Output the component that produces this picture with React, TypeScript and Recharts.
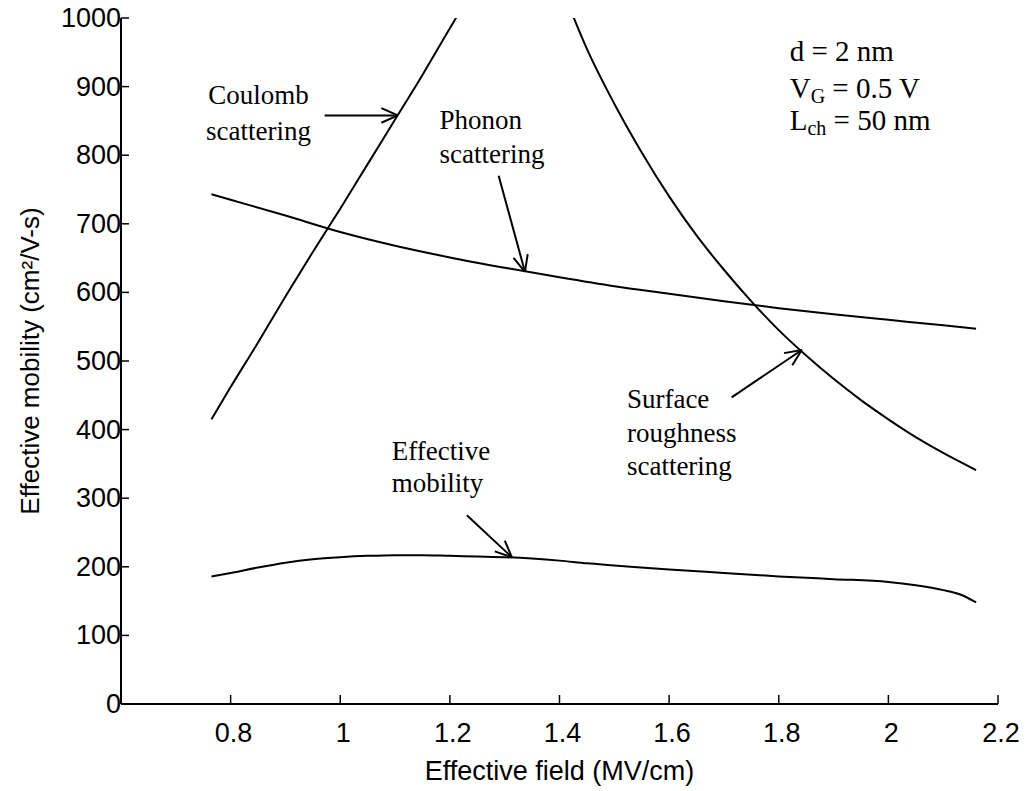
import React from "react";
import { LineChart, Line, XAxis, YAxis, ReferenceLine, ReferenceDot } from "recharts";

// curves (x in MV/cm, y in cm2/V-s)
const coulombX = [0.765, 0.8, 0.85, 0.9, 0.95, 1.0, 1.05, 1.1, 1.15, 1.2, 1.22];
const coulombY = [415, 462, 527, 594, 659, 722, 787, 852, 917, 985, 1012];

const phononX = [0.765, 0.8, 0.9, 1.0, 1.1, 1.2, 1.3, 1.4, 1.5, 1.6, 1.7, 1.8, 1.9, 2.0, 2.1, 2.16];
const phononY = [743, 735, 712, 688, 668, 651, 636, 622, 609, 598, 587, 577, 568, 560, 552, 547];

const surfaceX = [1.415, 1.45, 1.5, 1.55, 1.6, 1.65, 1.7, 1.75, 1.8, 1.85, 1.9, 1.95, 2.0, 2.05, 2.1, 2.16];
const surfaceY = [1022, 955, 875, 804, 740, 683, 633, 587, 545, 508, 474, 443, 415, 389, 366, 341];

const effectiveX = [0.765, 0.8, 0.85, 0.9, 0.95, 1.0, 1.05, 1.1, 1.15, 1.2, 1.25, 1.3, 1.35, 1.4, 1.45, 1.5, 1.6, 1.7, 1.8, 1.9, 2.0, 2.05, 2.1, 2.13, 2.16];
const effectiveY = [186, 191, 199, 206, 211, 214, 216, 217, 217, 216, 215, 214, 212, 209, 205, 202, 196, 191, 186, 182, 178, 173, 166, 160, 148];

const xTicks = [0.8, 1, 1.2, 1.4, 1.6, 1.8, 2, 2.2];
const yTicks = [0, 100, 200, 300, 400, 500, 600, 700, 800, 900, 1000];

// arrows: [fromX, fromY, toX, toY]
const arrows = [
  [0.9715, 858, 1.105, 858],
  [1.289, 770, 1.337, 630],
  [1.714, 447, 1.842, 516],
  [1.231, 275, 1.313, 214],
];

type Seg = { t: string; sub?: boolean };
type Note = { x: number; y: number; anchor: "start" | "middle"; size: number; lines: { dy: number; segs: Seg[] }[] };

const notes: Note[] = [
  { x: 0.851, y: 875, anchor: "middle", size: 27, lines: [{ dy: 0, segs: [{ t: "Coulomb" }] }, { dy: 36, segs: [{ t: "scattering" }] }] },
  { x: 1.181, y: 838, anchor: "start", size: 27, lines: [{ dy: 0, segs: [{ t: "Phonon" }] }, { dy: 34, segs: [{ t: "scattering" }] }] },
  {
    x: 1.82, y: 937, anchor: "start", size: 29,
    lines: [
      { dy: 0, segs: [{ t: "d = 2 nm" }] },
      { dy: 37, segs: [{ t: "V" }, { t: "G", sub: true }, { t: " = 0.5  V" }] },
      { dy: 69, segs: [{ t: "L" }, { t: "ch", sub: true }, { t: " = 50 nm" }] },
    ],
  },
  {
    x: 1.523, y: 431, anchor: "start", size: 27,
    lines: [{ dy: 0, segs: [{ t: "Surface" }] }, { dy: 34, segs: [{ t: "roughness" }] }, { dy: 67, segs: [{ t: "scattering" }] }],
  },
  { x: 1.094, y: 356, anchor: "start", size: 27, lines: [{ dy: 0, segs: [{ t: "Effective" }] }, { dy: 32, segs: [{ t: "mobility" }] }] },
];

const zip = (xs: number[], ys: number[]) => xs.map((x, i) => ({ x, y: ys[i] }));

const SANS = "'Liberation Sans', Arial, Helvetica, sans-serif";
const SERIF = "'Liberation Serif', 'Times New Roman', serif";

const BottomTick = (p: any) => (
  <g>
    <line x1={p.x} y1={p.y} x2={p.x} y2={p.y - 9} stroke="#000" strokeWidth={1.5} />
    <text x={p.x + 3} y={p.y + 38} textAnchor="middle" fontSize={27} fontFamily={SANS} fill="#000">
      {p.payload.value}
    </text>
  </g>
);
const LeftTick = (p: any) => (
  <g>
    <line x1={p.x} y1={p.y} x2={p.x + 8} y2={p.y} stroke="#000" strokeWidth={1.5} />
    <text x={p.x} y={p.y + 9} textAnchor="end" fontSize={27} fontFamily={SANS} fill="#000">
      {p.payload.value}
    </text>
  </g>
);
const TopTick = (p: any) => <line x1={p.x} y1={p.y} x2={p.x} y2={p.y + 8} stroke="#000" strokeWidth={1.5} />;
const RightTick = (p: any) => <line x1={p.x} y1={p.y} x2={p.x - 9} y2={p.y} stroke="#000" strokeWidth={1.5} />;

const Arrow = (p: any) => {
  const { x1, y1, x2, y2 } = p;
  const a = Math.atan2(y2 - y1, x2 - x1);
  const L = 18;
  const s = 0.42;
  return (
    <g stroke="#000" strokeWidth={2} fill="none">
      <line x1={x1} y1={y1} x2={x2} y2={y2} />
      <line x1={x2} y1={y2} x2={x2 - L * Math.cos(a - s)} y2={y2 - L * Math.sin(a - s)} />
      <line x1={x2} y1={y2} x2={x2 - L * Math.cos(a + s)} y2={y2 - L * Math.sin(a + s)} />
    </g>
  );
};

const noteShape = (n: Note) => (p: any) => (
  <text x={p.cx} y={p.cy} textAnchor={n.anchor} fontSize={n.size} fontFamily={SERIF} fill="#000">
    {n.lines.map((ln, i) => (
      <tspan key={i} x={p.cx} y={p.cy + ln.dy}>
        {ln.segs.map((sg, j) =>
          sg.sub ? (
            <tspan key={j} fontSize={Math.round(n.size * 0.68)} dy={5}>{sg.t}</tspan>
          ) : (
            <tspan key={j} dy={j > 0 && ln.segs[j - 1].sub ? -5 : 0}>{sg.t}</tspan>
          )
        )}
      </tspan>
    ))}
  </text>
);

export default function App() {
  return (
    <div style={{ position: "absolute", left: 0, top: 0, background: "#fff" }}>
      <LineChart width={1029} height={791} margin={{ top: 18, right: 31, bottom: 0, left: 0 }}>
        <XAxis
          type="number" dataKey="x" domain={[0.6, 2.2]} ticks={xTicks} interval={0} allowDataOverflow
          height={87} tickSize={0} tickMargin={0} tickLine={false} tick={<BottomTick />}
          axisLine={{ stroke: "#000", strokeWidth: 2 }}
          label={{ value: "Effective field (MV/cm)", position: "insideBottom", offset: 11, fontSize: 27, fontFamily: SANS, fill: "#000" }}
        />
        <XAxis
          xAxisId="top" orientation="top" type="number" domain={[0.6, 2.2]} ticks={xTicks} interval={0} allowDataOverflow
          height={0} tickSize={0} tickMargin={0} tickLine={false} tick={<TopTick />}
          axisLine={{ stroke: "#000", strokeWidth: 2 }}
        />
        <YAxis
          type="number" domain={[0, 1000]} ticks={yTicks} interval={0} allowDataOverflow
          width={121} tickSize={0} tickMargin={0} tickLine={false} tick={<LeftTick />}
          axisLine={{ stroke: "#000", strokeWidth: 2 }}
          label={{ value: "Effective mobility (cm²/V-s)", angle: -90, position: "insideLeft", offset: 30, fontSize: 26, fontFamily: SANS, fill: "#000", style: { textAnchor: "middle" } }}
        />
        <YAxis
          yAxisId="right" orientation="right" type="number" domain={[0, 1000]} ticks={yTicks} interval={0} allowDataOverflow
          width={0} tickSize={0} tickMargin={0} tickLine={false} tick={<RightTick />}
          axisLine={{ stroke: "#000", strokeWidth: 2.5 }}
        />
        <Line data={zip(coulombX, coulombY)} dataKey="y" type="monotone" stroke="#000" strokeWidth={2} dot={false} isAnimationActive={false} />
        <Line data={zip(phononX, phononY)} dataKey="y" type="monotone" stroke="#000" strokeWidth={2} dot={false} isAnimationActive={false} />
        <Line data={zip(surfaceX, surfaceY)} dataKey="y" type="monotone" stroke="#000" strokeWidth={2} dot={false} isAnimationActive={false} />
        <Line data={zip(effectiveX, effectiveY)} dataKey="y" type="monotone" stroke="#000" strokeWidth={2} dot={false} isAnimationActive={false} />
        {arrows.map((a, i) => (
          <ReferenceLine key={"a" + i} segment={[{ x: a[0], y: a[1] }, { x: a[2], y: a[3] }]} shape={Arrow} />
        ))}
        {notes.map((n, i) => (
          <ReferenceDot key={"n" + i} x={n.x} y={n.y} r={0} shape={noteShape(n)} />
        ))}
      </LineChart>
    </div>
  );
}
